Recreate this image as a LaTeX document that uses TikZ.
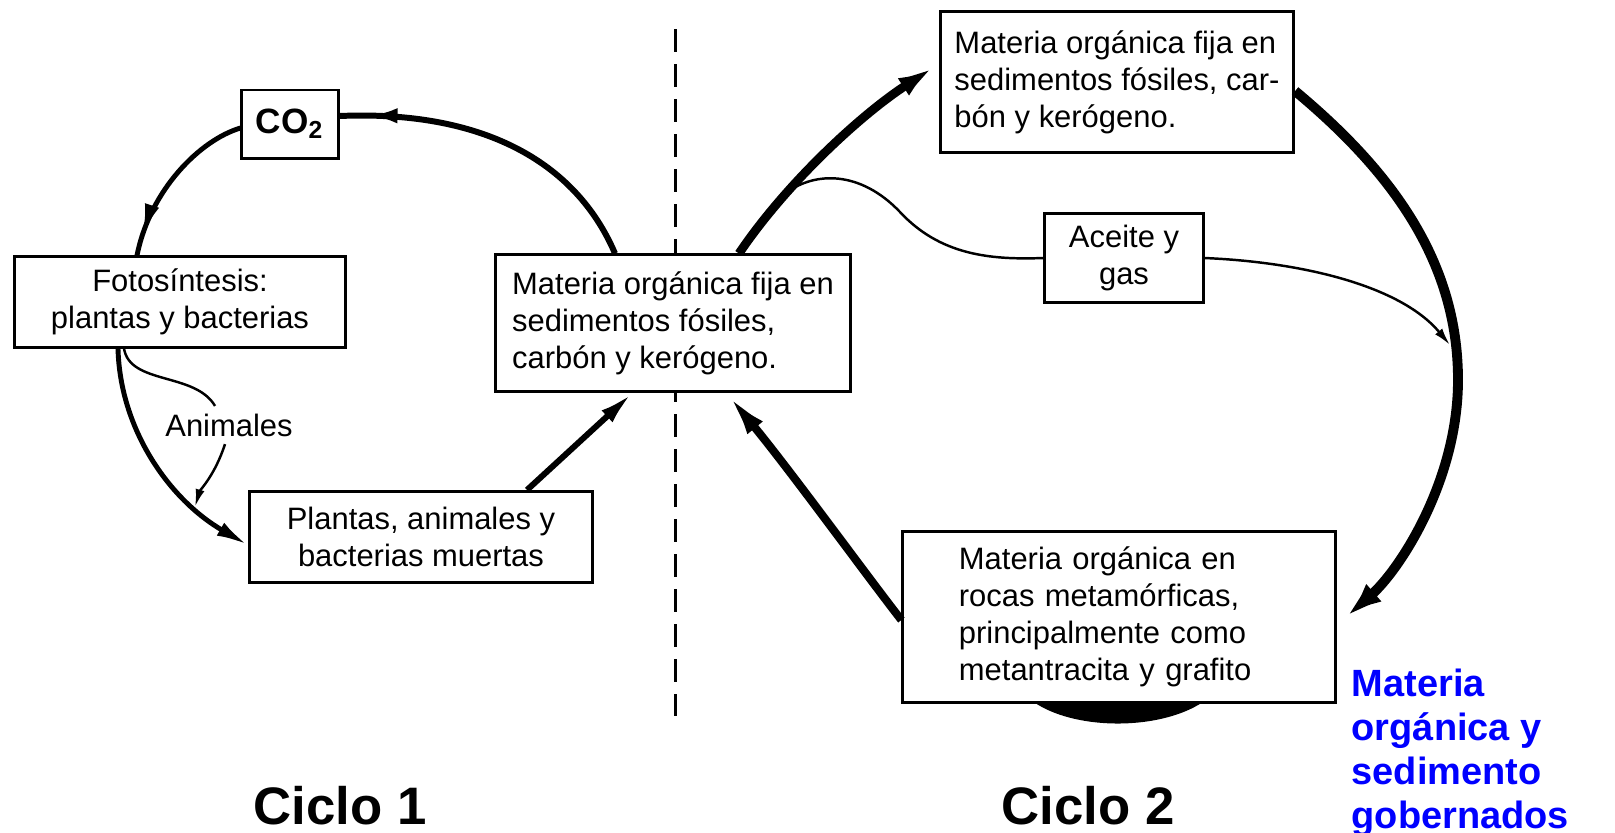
\documentclass[tikz,border=0pt]{standalone}
\usepackage{fontspec}
\setmainfont{Liberation Sans}
\usetikzlibrary{arrows.meta,calc,decorations.markings}
\definecolor{azul}{RGB}{0,0,255}

\tikzset{
  caja/.style={draw, line width=0.85pt, fill=white, inner sep=0pt, font=\fontsize{8.8}{10.5}\selectfont},
  fina/.style={line width=0.7pt, -{Latex[length=5pt,width=2.6pt]}},
  puntaen/.style={postaction={decorate}, decoration={markings, mark=at position #1 with {\arrow{Latex[length=9pt,width=4.2pt]}}}},
  ciclo/.style={font=\bfseries\fontsize{15}{18}\selectfont},
}

\begin{document}
\begin{tikzpicture}[x=0.01cm, y=-0.01cm]
\useasboundingbox (0,0) rectangle (1615,832);
\draw[line width=0.85pt, dash pattern=on 0.23cm off 0.12cm] (675,29) -- (675,716);
\fill (1025,695) .. controls (1065,733) and (1170,733) .. (1212,695) -- cycle;

\node[caja, minimum width=0.96cm, minimum height=0.68cm, font=\bfseries\fontsize{10}{12}\selectfont] (co2) at (290,124) {CO\textsubscript{2}};
\node[caja, align=center, minimum width=3.3cm, minimum height=0.9cm] (foto) at (180,302) {Fotosíntesis:\\plantas y bacterias};
\node[caja, align=left, minimum width=3.55cm, minimum height=1.36cm] (centro) at (673,323) {Materia orgánica fija en\\sedimentos fósiles,\\carbón y kerógeno.};
\node[caja, align=center, minimum width=3.43cm, minimum height=0.91cm] (plantas) at (421,537) {Plantas, animales y\\bacterias muertas};
\node[caja, align=left, minimum width=3.53cm, minimum height=1.41cm] (fijos) at (1117,82) {Materia orgánica fija en\\sedimentos fósiles, car-\\bón y kerógeno.};
\node[caja, align=center, minimum width=1.58cm, minimum height=0.88cm] (aceite) at (1124,258) {Aceite y\\gas};
\node[caja, align=left, inner xsep=0.56cm, text width=3.2cm, minimum width=4.32cm, minimum height=1.7cm] (rocas) at (1119,617) {Materia orgánica en\\rocas metamórficas,\\principalmente como\\metantracita y grafito};
\node[inner sep=2pt, font=\fontsize{8.8}{10.5}\selectfont] (animales) at (229,425) {Animales};
\node[ciclo] (ciclo1) at (340,806) {Ciclo 1};
\node[ciclo] (ciclo2) at (1088,806) {Ciclo 2};
\node[anchor=north west, inner sep=0pt, align=left, text=azul, font=\bfseries\fontsize{10.8}{12.5}\selectfont] (nota) at (1351,668) {Materia\\orgánica y\\sedimento\\gobernados};
\coordinate (enlace) at (1450,345);

\draw[line width=1.7pt, puntaen=0.92] ($(centro.north)+(-58,0)$) .. controls (575,160) and (480,110) .. ($(co2.east)+(0,-8)$);
\draw[line width=1.4pt, puntaen=0.88] ($(co2.west)+(0,4)$) .. controls (200,140) and (150,190) .. ($(foto.north)+(-43,0)$);
\draw[line width=1.4pt, -{Latex[length=9pt,width=4.2pt]}] ($(foto.south)+(-62,0)$) .. controls (120,430) and (170,500) .. ($(plantas.west)+(0,8)$) coordinate[pos=0.75] (junta);
\draw[line width=0.7pt] ($(foto.south)+(-56,0)$) .. controls (130,385) and (195,372) .. ($(animales.north)+(-14,0)$);
\draw[fina] ($(animales.south)+(-4,0)$) .. controls (215,475) and (200,490) .. (junta);
\draw[line width=1.7pt, -{Latex[length=10pt,width=4.5pt]}] ($(plantas.north)+(106,0)$) -- ($(centro.south)+(-40,0)$);

\draw[line width=2.5pt, -{Latex[length=12pt,width=5.5pt]}] ($(centro.north)+(66,0)$) .. controls (785,185) and (860,115) .. ($(fijos.west)+(0,-18)$) coordinate[pos=0.3] (rama);
\draw[line width=0.7pt] (rama) .. controls (815,172) and (860,170) .. (900,212) .. controls (940,255) and (990,260) .. (aceite.west);
\draw[fina] (aceite.east) .. controls (1300,262) and (1400,285) .. (enlace);
\draw[line width=2.8pt, -{Latex[length=14pt,width=6pt]}] ($(fijos.east)+(0,9)$) .. controls (1390,170) and (1458,260) .. (1458,380) .. controls (1458,480) and (1400,570) .. ($(rocas.east)+(0,8)$);
\draw[line width=2.3pt, -{Latex[length=13pt,width=5.5pt]}] ($(rocas.west)+(0,3)$) .. controls (870,580) and (790,470) .. ($(centro.south)+(53,0)$);
\end{tikzpicture}
\end{document}
